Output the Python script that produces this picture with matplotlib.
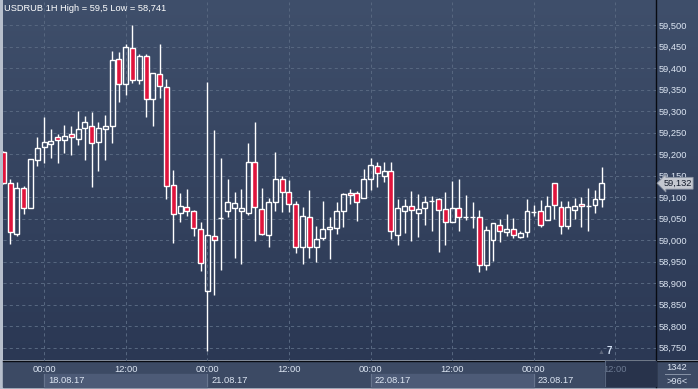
import numpy as np
import matplotlib.pyplot as plt
from matplotlib.patches import Rectangle
from matplotlib.colors import LinearSegmentedColormap

plt.rcParams['font.family'] = ['Liberation Sans', 'DejaVu Sans']

# hourly USDRUB candles, 17.08.17 18:00 .. 23.08.17 10:00 (weekend skipped)
opens = [59.204, 59.132, 59.015, 59.120, 59.074, 59.185, 59.216, 59.224, 59.239, 59.232,
         59.247, 59.236, 59.260, 59.264, 59.227, 59.257, 59.264, 59.420, 59.362, 59.446,
         59.371, 59.429, 59.327, 59.385, 59.355, 59.127, 59.062, 59.076, 59.067, 59.025,
         58.881, 59.009, 59.052, 59.068, 59.075, 59.067, 59.062, 59.181, 59.071, 59.011,
         59.088, 59.141, 59.111, 59.083, 58.983, 59.053, 58.983, 59.004, 59.025, 59.029,
         59.067, 59.109, 59.109, 59.097, 59.143, 59.171, 59.150, 59.160, 59.011, 59.067,
         59.078, 59.062, 59.074, 59.090, 59.095, 59.071, 59.043, 59.074, 59.053, 59.053,
         59.053, 58.943, 58.999, 59.036, 59.019, 59.025, 59.008, 59.018, 59.064, 59.067,
         59.046, 59.132, 59.076, 59.032, 59.069, 59.083, 59.078, 59.081, 59.095]
highs = [59.206, 59.143, 59.134, 59.126, 59.188, 59.239, 59.286, 59.258, 59.247, 59.267,
         59.265, 59.300, 59.288, 59.297, 59.274, 59.291, 59.440, 59.438, 59.455, 59.500,
         59.432, 59.432, 59.388, 59.455, 59.374, 59.163, 59.109, 59.119, 59.069, 59.041,
         59.367, 59.255, 59.190, 59.143, 59.112, 59.119, 59.225, 59.274, 59.121, 59.098,
         59.205, 59.150, 59.140, 59.090, 59.076, 59.116, 59.033, 59.091, 59.053, 59.088,
         59.109, 59.119, 59.113, 59.165, 59.190, 59.181, 59.181, 59.181, 59.095, 59.095,
         59.114, 59.107, 59.102, 59.102, 59.097, 59.112, 59.137, 59.142, 59.104, 59.088,
         59.069, 59.033, 59.039, 59.049, 59.060, 59.051, 59.022, 59.095, 59.081, 59.093,
         59.102, 59.132, 59.091, 59.091, 59.098, 59.100, 59.121, 59.116, 59.170]
lows = [59.130, 58.990, 59.010, 59.060, 59.074, 59.173, 59.180, 59.191, 59.178, 59.203,
        59.198, 59.221, 59.186, 59.123, 59.161, 59.186, 59.226, 59.322, 59.337, 59.364,
        59.363, 59.287, 59.266, 59.331, 59.095, 58.994, 59.043, 59.057, 59.010, 58.929,
        58.741, 58.871, 58.930, 59.054, 58.959, 58.945, 59.058, 58.998, 59.012, 58.984,
        59.068, 59.066, 59.066, 58.970, 58.945, 58.959, 58.950, 59.000, 58.957, 59.015,
        59.031, 59.083, 59.044, 59.097, 59.116, 59.123, 59.135, 59.003, 58.989, 59.017,
        58.998, 59.008, 59.036, 59.022, 58.973, 58.989, 59.043, 59.022, 59.047, 59.029,
        58.925, 58.931, 58.951, 58.996, 59.010, 59.005, 59.004, 59.008, 59.055, 59.030,
        59.046, 59.048, 59.015, 59.026, 59.048, 59.031, 59.022, 59.063, 59.077]
closes = [59.132, 59.018, 59.120, 59.074, 59.188, 59.213, 59.227, 59.230, 59.232, 59.241,
          59.239, 59.257, 59.274, 59.225, 59.260, 59.264, 59.418, 59.362, 59.448, 59.371,
          59.429, 59.329, 59.388, 59.358, 59.126, 59.060, 59.078, 59.067, 59.027, 58.946,
          59.011, 59.000, 59.052, 59.088, 59.085, 59.074, 59.181, 59.076, 59.013, 59.088,
          59.141, 59.111, 59.083, 58.983, 59.055, 58.983, 59.002, 59.025, 59.030, 59.067,
          59.106, 59.104, 59.088, 59.141, 59.174, 59.155, 59.160, 59.020, 59.074, 59.080,
          59.069, 59.071, 59.088, 59.090, 59.069, 59.041, 59.074, 59.053, 59.053, 59.053,
          58.942, 59.023, 59.039, 59.022, 59.025, 59.011, 59.016, 59.067, 59.064, 59.034,
          59.078, 59.081, 59.032, 59.076, 59.078, 59.078, 59.078, 59.095, 59.132]

tick_idx = [6, 18, 30, 42, 54, 66, 78, 90]
tick_labels = ['00:00', '12:00', '00:00', '12:00', '00:00', '12:00', '00:00', '12:00']
day_idx = [6, 30, 54, 78]
day_labels = ['18.08.17', '21.08.17', '22.08.17', '23.08.17']
price_ticks = [58.75, 58.80, 58.85, 58.90, 58.95, 59.00, 59.05, 59.10,
               59.15, 59.20, 59.25, 59.30, 59.35, 59.40, 59.45, 59.50]
last_price = 59.132
title = 'USDRUB 1H High = 59,5 Low = 58,741'

W, H = 698, 389
txt = '#dde6f3'
fig = plt.figure(figsize=(W / 100, H / 100), dpi=100, facecolor='#b7bfcc')

# background panel in pixel coords
bg = fig.add_axes([0, 0, 1, 1])
grad = np.linspace(0, 1, 256).reshape(-1, 1)
cmap = LinearSegmentedColormap.from_list('bg', ['#3f4f6b', '#2b3854'])
bg.imshow(grad, cmap=cmap, extent=[2.5, W, 360.5, 0], aspect='auto')
bg.add_patch(Rectangle((2.5, 360.5), W - 2.5, 26, color='#3c4a64'))
bg.plot([2.5, W], [360.5, 360.5], color='#080b12', lw=1)
bg.plot([655.5, 655.5], [0, 386.5], color='#080b12', lw=1)
bg.plot([665, 690], [374, 374], color='#8894a8', lw=0.7)
bg.text(677, 367.5, '1342', color=txt, fontsize=6.7, ha='center', va='center')
bg.text(677, 381, '>96<', color=txt, fontsize=6.7, ha='center', va='center')
bg.set_xlim(0, W)
bg.set_ylim(H, 0)
bg.axis('off')

ax = fig.add_axes([3 / W, 1 - 360.5 / H, 652.5 / W, 358.5 / H])
ax.set_facecolor('none')
for s in ax.spines.values():
    s.set_visible(False)

x = np.arange(len(opens))
o = np.array(opens)
c = np.array(closes)
top = np.maximum(o, c)
bot = np.minimum(o, c)
ax.vlines(x, top, highs, color='white', lw=1.0, zorder=2.5)
ax.vlines(x, lows, bot, color='white', lw=1.0, zorder=2.5)
fills = ['#e0143c' if cl < op else 'none' for op, cl in zip(opens, closes)]
ax.bar(x, top - bot, bottom=bot, width=0.72, color=fills, edgecolor='white',
       linewidth=1.0, zorder=3)

ax.set_xlim(-0.04, 95.9)
ax.set_ylim(58.7198, 59.5535)
ax.set_xticks(tick_idx, tick_labels)
ax.set_yticks(price_ticks, [f'{p:.3f}'.replace('.', ',') for p in price_ticks])
ax.yaxis.tick_right()
ax.tick_params(length=0, colors=txt, labelsize=6.7)
ax.tick_params(axis='y', pad=2.2)
ax.tick_params(axis='x', pad=3.2)
ax.xaxis.get_ticklabels()[-1].set_color('#6c7a92')
ax.grid(True, color='#56667f', lw=0.75, ls=(0, (3, 3)))

# date row below time labels
xt = ax.get_xaxis_transform()
for i, (d, lab) in enumerate(zip(day_idx, day_labels)):
    if i % 2 == 0:
        ax.add_patch(Rectangle((d, -0.0377), 24, -0.035, transform=xt,
                               color='#4d5b77', clip_on=False, zorder=1))
    ax.plot([d, d], [-0.0377, -0.0725], transform=xt, color='#67758e',
            lw=0.8, clip_on=False)
    ax.text(d + 0.6, -0.056, lab, transform=xt, color=txt, fontsize=6.7,
            ha='left', va='center')
ax.add_patch(Rectangle((88.5, 0), 95.9 - 88.5, -0.0725, transform=xt,
                       color='#28334b', clip_on=False, zorder=1))
ax.plot([88.5, 88.5], [0, -0.0725], transform=xt, color='#56647c', lw=0.8,
        clip_on=False)

ax.text(0.0015, 0.994, title, transform=ax.transAxes, color='white',
        fontsize=6.7, ha='left', va='top')
ax.text(0.916, 0.012, '\u25b2', transform=ax.transAxes, color='#5d677c',
        fontsize=5, ha='center', va='bottom')
ax.text(0.929, 0.012, '7', transform=ax.transAxes, color='#d4e2f5',
        fontsize=7, fontweight='bold', ha='center', va='bottom')
ax.text(1.012, last_price, f'{last_price:.3f}'.replace('.', ','),
        transform=ax.get_yaxis_transform(), color='#121a2a', fontsize=6.7,
        ha='left', va='center', zorder=6, clip_on=False,
        bbox=dict(boxstyle='larrow,pad=0.15', fc='#c4c8d0', ec='#8a93a3', lw=0.6))

fig.savefig('out.png', dpi=100, facecolor=fig.get_facecolor())
